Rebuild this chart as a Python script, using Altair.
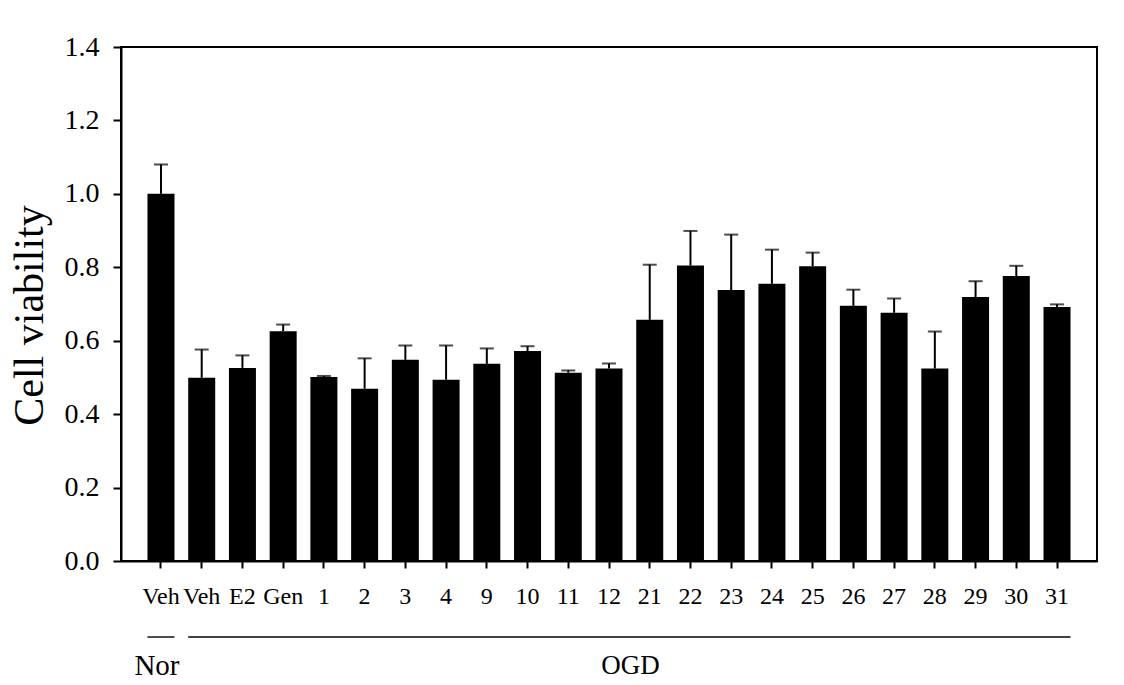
import altair as alt
import pandas as pd

# ---- data ----
keys = ["Nor_Veh", "OGD_Veh", "OGD_E2", "OGD_Gen", "OGD_1", "OGD_2", "OGD_3", "OGD_4",
        "OGD_9", "OGD_10", "OGD_11", "OGD_12", "OGD_21", "OGD_22", "OGD_23", "OGD_24",
        "OGD_25", "OGD_26", "OGD_27", "OGD_28", "OGD_29", "OGD_30", "OGD_31"]
values = [1.000, 0.499, 0.526, 0.626, 0.501, 0.469, 0.548, 0.494, 0.537, 0.572, 0.513,
          0.524, 0.657, 0.805, 0.738, 0.755, 0.803, 0.695, 0.676, 0.524, 0.719, 0.776, 0.692]
errors = [0.080, 0.077, 0.034, 0.018, 0.003, 0.083, 0.039, 0.093, 0.042, 0.013, 0.006,
          0.014, 0.150, 0.094, 0.151, 0.093, 0.037, 0.044, 0.039, 0.101, 0.043, 0.028, 0.007]
y_ticks = [0.0, 0.2, 0.4, 0.6, 0.8, 1.0, 1.2, 1.4]

group_names = ["Nor", "OGD"]
group_start = ["Nor_Veh", "OGD_Veh"]
group_end = ["Nor_Veh", "OGD_31"]
group_label_key = ["Nor_Veh", "OGD_12"]

df = pd.DataFrame({"key": keys, "value": values, "err": errors})
df["top"] = df["value"] + df["err"]
gdf = pd.DataFrame({"group": group_names, "start": group_start, "end": group_end,
                    "lkey": group_label_key})

FONT = "Liberation Serif"
W, H = 976, 514

xscale = alt.Scale(domain=keys, paddingInner=0.337, paddingOuter=0.65)

base = alt.Chart(df)

bars = base.mark_bar(color="black").encode(
    x=alt.X("key:N", scale=xscale, sort=keys,
            axis=alt.Axis(title=None, labelExpr="split(datum.value, '_')[1]")),
    y=alt.Y("value:Q", scale=alt.Scale(domain=[0, 1.4], nice=False, zero=True),
            axis=alt.Axis(values=y_ticks, format=".1f", title="Cell viability")),
)

err_rule = base.mark_rule(color="black", strokeWidth=2).encode(
    x=alt.X("key:N", title=None),
    y=alt.Y("value:Q"),
    y2="top:Q",
)

caps = base.mark_tick(color="black", size=14, thickness=2).encode(
    x=alt.X("key:N", title=None),
    y=alt.Y("top:Q"),
)

gbase = alt.Chart(gdf)

glines = gbase.mark_rule(color="black", strokeWidth=1.4).encode(
    x=alt.X("start:N", bandPosition=0, title=None),
    x2=alt.X2("end:N", bandPosition=1),
    y=alt.value(590),
)

nor_text = gbase.transform_filter(alt.datum.group == "Nor").mark_text(
    font=FONT, fontSize=29, baseline="middle", align="center", color="black"
).encode(
    x=alt.X("lkey:N", bandPosition=0.35, title=None),
    y=alt.value(619),
    text="group:N",
)

ogd_text = gbase.transform_filter(alt.datum.group == "OGD").mark_text(
    font=FONT, fontSize=27, baseline="middle", align="center", color="black", dx=8
).encode(
    x=alt.X("lkey:N", bandPosition=1, title=None),
    y=alt.value(619),
    text="group:N",
)

chart = alt.layer(bars, err_rule, caps, glines, nor_text, ogd_text).properties(
    width=W, height=H,
    autosize=alt.AutoSizeParams(type="none"),
    padding={"left": 121, "top": 47, "right": 27, "bottom": 124},
    background="white",
).configure_view(
    stroke="black", strokeWidth=2
).configure_axis(
    grid=False, domainColor="black", domainWidth=2, tickColor="black", tickWidth=2,
    labelColor="black", titleColor="black", labelFont=FONT, titleFont=FONT,
).configure_axisX(
    labelAngle=0, labelFontSize=24, labelPadding=16, tickSize=7,
).configure_axisY(
    labelFontSize=28, labelPadding=14, tickSize=8,
    titleFontSize=42, titleFontWeight="normal",
    titleX=-92, titleY=268, titleAngle=-90,
    titleAlign="center", titleBaseline="middle",
)

chart.save("out.html", embed_options={"renderer": "svg", "actions": False})
